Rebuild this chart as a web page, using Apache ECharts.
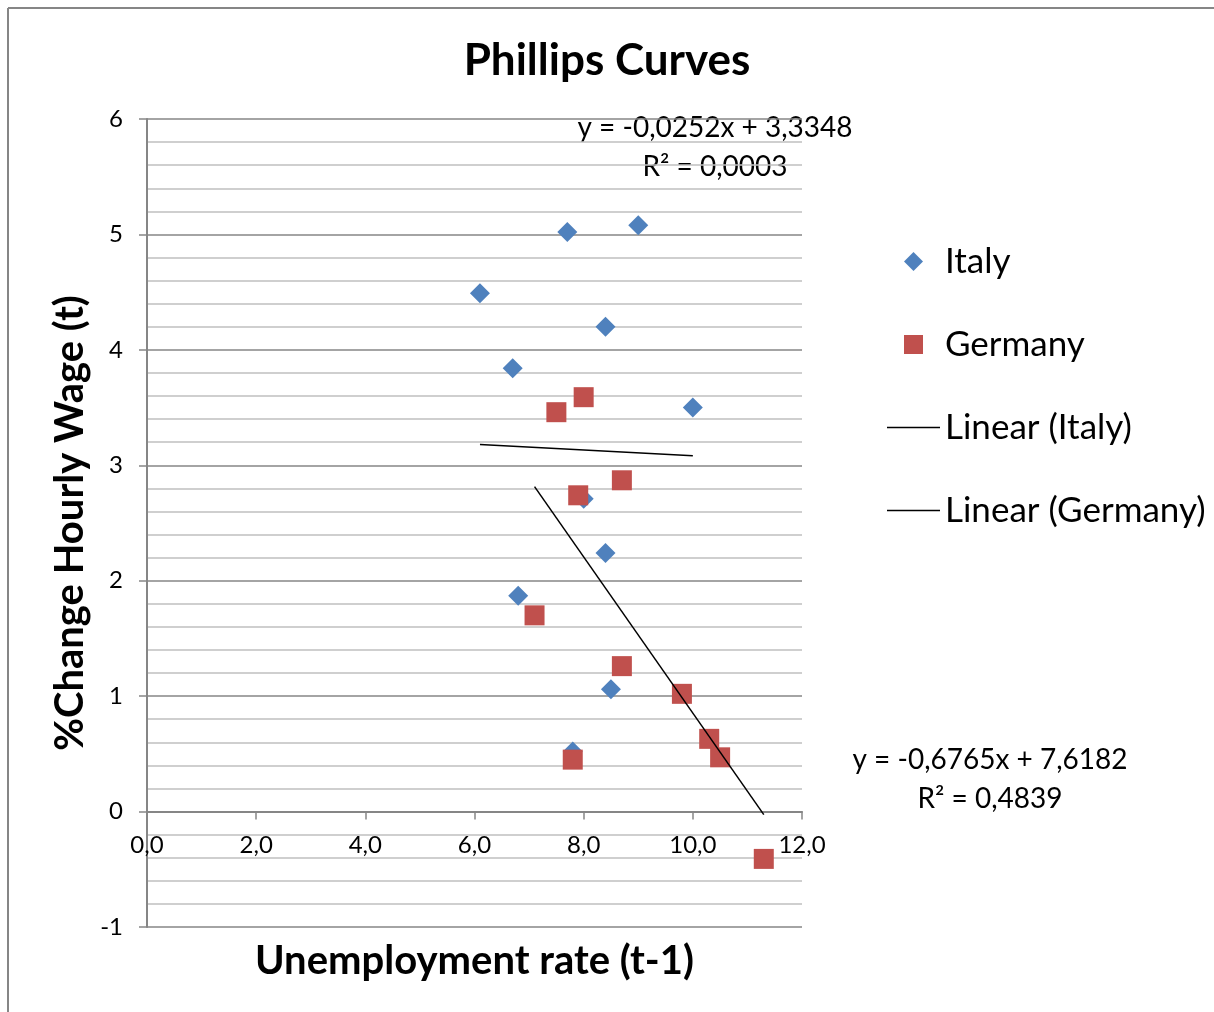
<!DOCTYPE html>
<html>
<head>
<meta charset="utf-8">
<script src="https://cdn.jsdelivr.net/npm/echarts@6/dist/echarts.min.js"></script>
<style>
    html, body { margin: 0; padding: 0; background: #fff; }
    #main { width: 1214px; height: 1012px; }
</style>
</head>
<body>
<div id="main"></div>
<script>
    // Italy: [unemployment rate (t-1), %change hourly wage (t)]
    var italy = [
        [7.7, 5.02], [9.0, 5.08], [6.1, 4.49], [8.4, 4.20], [6.7, 3.84], [10.0, 3.50],
        [8.0, 2.71], [8.4, 2.24], [6.8, 1.87], [8.5, 1.06], [7.8, 0.52]
    ]
    var germany = [
        [7.5, 3.46], [8.0, 3.59], [8.7, 2.87], [7.9, 2.74], [7.1, 1.70], [8.7, 1.26],
        [9.8, 1.02], [10.3, 0.63], [10.5, 0.47], [7.8, 0.45], [11.3, -0.41]
    ]
    // trendline end points (first to last x of each series)
    var trendItaly = [[6.1, 3.181], [10.0, 3.083]]
    var trendGermany = [[7.1, 2.815], [11.3, -0.026]]
    var eqItaly = ['y = -0,0252x + 3,3348', 'R² = 0,0003']
    var eqGermany = ['y = -0,6765x + 7,6182', 'R² = 0,4839']

    var font = 'Lato, "Open Sans", sans-serif'
    var gray = '#868686'
    var lineIcon = 'path://M0,0 L53,0 L53,1.5 L0,1.5 Z'
    var diamondIcon = 'path://M10,0 L20,10 L10,20 L0,10 Z'
    var squareIcon = 'path://M0,0 L20,0 L20,20 L0,20 Z'

    var myChart = echarts.init(document.getElementById('main'));
    var option = {
        backgroundColor: '#fff',
        animation: false,
        textStyle: {fontFamily: font, color: '#000'},
        title: {
            text: 'Phillips Curves',
            left: 'center',
            top: 34,
            textStyle: {fontFamily: font, fontSize: 44, fontWeight: 'bold', color: '#000'}
        },
        legend: {
            orient: 'vertical',
            left: 882,
            top: 239,
            itemWidth: 53,
            itemHeight: 19,
            itemGap: 48,
            symbolKeepAspect: true,
            textStyle: {fontFamily: font, fontSize: 35, color: '#000', lineHeight: 35},
            data: [
                {name: 'Italy', icon: diamondIcon},
                {name: 'Germany', icon: squareIcon},
                {name: 'Linear (Italy)', icon: lineIcon},
                {name: 'Linear (Germany)', icon: lineIcon}
            ]
        },
        grid: {left: 147, right: 412, top: 119, bottom: 85, outerBoundsMode: 'none'},
        xAxis: {
            type: 'value',
            min: 0,
            max: 12,
            interval: 2,
            position: 'bottom',
            offset: -115.4,   // put the axis on y = 0
            name: 'Unemployment rate (t-1)',
            nameLocation: 'middle',
            nameGap: 129,
            nameMoveOverlap: false,
            nameTextStyle: {fontFamily: font, fontSize: 40, fontWeight: 'bold', color: '#000'},
            axisLine: {onZero: false, lineStyle: {color: gray, width: 2}},
            axisTick: {show: true, inside: false, length: 8, lineStyle: {color: gray, width: 1.5}},
            axisLabel: {
                fontFamily: font, fontSize: 24, color: '#000', margin: 22,
                formatter: function (v) { return v.toFixed(1).replace('.', ',') }
            },
            splitLine: {show: false}
        },
        yAxis: {
            type: 'value',
            min: -1,
            max: 6,
            interval: 1,
            name: '%Change Hourly Wage (t)',
            nameLocation: 'middle',
            nameGap: 57,
            nameMoveOverlap: false,
            nameTextStyle: {fontFamily: font, fontSize: 40, fontWeight: 'bold', color: '#000'},
            axisLine: {show: true, onZero: false, lineStyle: {color: gray, width: 2}},
            axisTick: {show: true, inside: false, length: 8, lineStyle: {color: gray, width: 1.5}},
            axisLabel: {fontFamily: font, fontSize: 24, color: '#000', margin: 24},
            splitLine: {show: true, lineStyle: {color: gray, width: 1.5}},
            minorTick: {show: false, splitNumber: 5},
            minorSplitLine: {show: true, lineStyle: {color: '#c0c0c0', width: 1.5}}
        },
        series: [
            {
                name: 'Italy',
                type: 'scatter',
                symbol: 'diamond',
                symbolSize: 20,
                itemStyle: {color: '#4F81BD', opacity: 1},
                data: italy
            },
            {
                name: 'Germany',
                type: 'scatter',
                symbol: 'rect',
                symbolSize: 20,
                itemStyle: {color: '#C0504D', opacity: 1},
                data: germany
            },
            {
                name: 'Linear (Italy)',
                type: 'line',
                symbol: 'none',
                z: 5,
                lineStyle: {color: '#000', width: 1.5},
                itemStyle: {color: '#000'},
                data: trendItaly
            },
            {
                name: 'Linear (Germany)',
                type: 'line',
                symbol: 'none',
                z: 5,
                lineStyle: {color: '#000', width: 1.5},
                itemStyle: {color: '#000'},
                data: trendGermany
            }
        ],
        graphic: [
            {type: 'line', shape: {x1: 8, y1: 8, x2: 1214, y2: 8}, style: {stroke: gray, lineWidth: 2}},
            {type: 'line', shape: {x1: 8, y1: 8, x2: 8, y2: 1012}, style: {stroke: gray, lineWidth: 2}},
            {
                type: 'text', x: 715, y: 128,
                style: {text: eqItaly[0], font: '28px ' + font, fill: '#000', align: 'center', verticalAlign: 'middle'}
            },
            {
                type: 'text', x: 715, y: 167,
                style: {text: eqItaly[1], font: '28px ' + font, fill: '#000', align: 'center', verticalAlign: 'middle'}
            },
            {
                type: 'text', x: 990, y: 760,
                style: {text: eqGermany[0], font: '28px ' + font, fill: '#000', align: 'center', verticalAlign: 'middle'}
            },
            {
                type: 'text', x: 990, y: 799,
                style: {text: eqGermany[1], font: '28px ' + font, fill: '#000', align: 'center', verticalAlign: 'middle'}
            }
        ]
    };
    option && myChart.setOption(option);
</script>
</body>
</html>
